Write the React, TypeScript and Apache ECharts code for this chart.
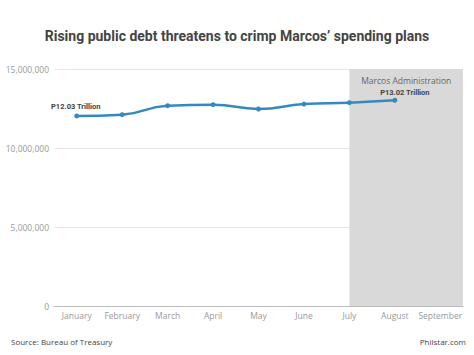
import React, { useEffect, useRef } from "react";
import * as echarts from "echarts";

const title = "Rising public debt threatens to crimp Marcos’ spending plans";
const months = ["January", "February", "March", "April", "May", "June", "July", "August", "September"];
const debt = [12030000, 12110000, 12680000, 12740000, 12470000, 12780000, 12870000, 13020000, null];
const firstLabel = "P12.03 Trillion";
const lastLabel = "P13.02 Trillion";
const shadeLabel = "Marcos Administration";
const shadeRange = [6.5, 9];
const source = "Source: Bureau of Treasury";
const credit = "Philstar.com";

export default function App() {
  const ref = useRef<HTMLDivElement>(null);
  useEffect(() => {
    if (!ref.current) return;
    const chart = echarts.init(ref.current, null, { renderer: "svg" });
    const lineData = debt.map((v, i) => {
      if (i === 0)
        return {
          value: v,
          label: { show: true, formatter: firstLabel, position: "top", distance: 3, offset: [-1, 0] },
        };
      if (i === 7)
        return {
          value: v,
          label: { show: true, formatter: lastLabel, position: "top", distance: 1, offset: [10, 0] },
        };
      return v;
    });
    chart.setOption({
      animation: false,
      backgroundColor: "#ffffff",
      title: {
        text: title,
        left: "center",
        top: 24,
        textStyle: { fontFamily: "Roboto", fontWeight: "bold", fontSize: 14, color: "#444444" },
      },
      grid: { left: 54, right: 11, top: 69, bottom: 49 },
      xAxis: [
        {
          type: "category",
          data: months,
          boundaryGap: true,
          axisTick: { show: false },
          axisLine: { lineStyle: { color: "#bbbbbb" } },
          axisLabel: { interval: 0, color: "#999999", fontFamily: "Open Sans", fontSize: 8.5, margin: 5 },
        },
        { type: "value", min: 0, max: 9, show: false },
      ],
      yAxis: {
        type: "value",
        min: 0,
        max: 15000000,
        interval: 5000000,
        axisLine: { show: false },
        axisTick: { show: false },
        splitLine: { lineStyle: { color: "#e8e8e8" } },
        axisLabel: {
          color: "#999999",
          fontFamily: "Open Sans",
          fontSize: 8.5,
          margin: 5,
          formatter: (v: number) => v.toLocaleString("en-US"),
        },
      },
      graphic: [
        {
          type: "text",
          left: 11,
          top: 337,
          style: { text: source, fontFamily: "Open Sans", fontSize: 8, fill: "#444444" },
        },
        {
          type: "text",
          right: 8,
          top: 337,
          style: { text: credit, fontFamily: "Open Sans", fontSize: 8, fill: "#444444" },
        },
      ],
      series: [
        {
          type: "line",
          xAxisIndex: 1,
          data: [],
          z: 0,
          markArea: {
            silent: true,
            itemStyle: { color: "#d9d9d9" },
            label: {
              show: true,
              position: "insideTop",
              distance: 7,
              color: "#666666",
              fontFamily: "Open Sans",
              fontSize: 8.5,
            },
            data: [
              [
                { name: shadeLabel, xAxis: shadeRange[0], yAxis: 15000000 },
                { xAxis: shadeRange[1], yAxis: 0 },
              ],
            ],
          },
        },
        {
          type: "line",
          data: lineData,
          smooth: true,
          z: 5,
          symbol: "circle",
          symbolSize: 5,
          lineStyle: { color: "#3589bf", width: 2.5 },
          itemStyle: { color: "#3589bf" },
          label: {
            color: "#444444",
            fontFamily: "Roboto",
            fontWeight: "bold",
            fontSize: 7.5,
          },
        },
      ],
    });
    return () => chart.dispose();
  }, []);
  return (
    <div
      ref={ref}
      style={{ position: "fixed", left: 0, top: 0, width: 474, height: 355, background: "#fff" }}
    />
  );
}
